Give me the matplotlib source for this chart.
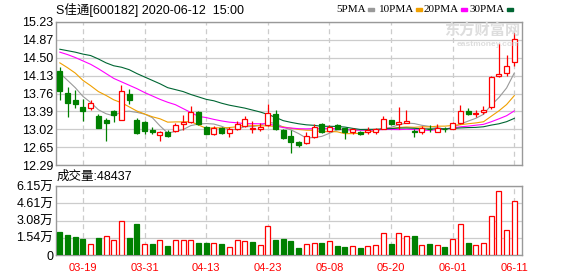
import matplotlib
matplotlib.use('Agg')
import matplotlib.pyplot as plt
import numpy as np
import pandas as pd

plt.rcParams['font.family'] = ['Liberation Sans', 'Noto Sans CJK SC']

# trading days shown (60 candles)
dates = ['03-16', '03-17', '03-18', '03-19', '03-20', '03-23', '03-24', '03-25', '03-26', '03-27',
         '03-30', '03-31', '04-01', '04-02', '04-03', '04-07', '04-08', '04-09', '04-10', '04-13',
         '04-14', '04-15', '04-16', '04-17', '04-20', '04-21', '04-22', '04-23', '04-24', '04-27',
         '04-28', '04-29', '04-30', '05-06', '05-07', '05-08', '05-11', '05-12', '05-13', '05-14',
         '05-15', '05-18', '05-19', '05-20', '05-21', '05-22', '05-25', '05-26', '05-27', '05-28',
         '05-29', '06-01', '06-02', '06-03', '06-04', '06-05', '06-08', '06-09', '06-10', '06-11']
tick_dates = ['03-19', '03-31', '04-13', '04-23', '05-08', '05-20', '06-01', '06-11']
price_ticks = [12.29, 12.65, 13.02, 13.39, 13.76, 14.13, 14.50, 14.87, 15.23]
price_labels = ['12.29', '12.65', '13.02', '13.39', '13.76', '14.13', '14.50', '14.87', '15.23']
vol_ticks = [0, 1.5375, 3.075, 4.6125, 6.15]
vol_labels = ['0', '1.54万', '3.08万', '4.61万', '6.15万']

open_ = [14.22, 13.77, 13.62, 13.49, 13.47, 13.30, 13.21, 13.41, 13.22, 13.74,
         13.21, 13.18, 13.00, 12.91, 12.97, 12.99, 13.13, 13.18, 13.38, 13.08,
         12.92, 13.06, 12.94, 13.02, 13.09, 13.03, 13.02, 13.12, 13.33, 13.00,
         12.89, 12.77, 12.75, 12.87, 13.14, 12.98, 13.11, 13.05, 12.97, 12.97,
         12.97, 12.97, 13.04, 13.21, 13.13, 13.16, 12.98, 12.96, 13.04, 12.97,
         13.04, 13.04, 13.15, 13.41, 13.33, 13.37, 13.49, 14.11, 14.19, 14.41]
close = [13.81, 13.57, 13.54, 13.39, 13.57, 13.06, 13.16, 13.32, 13.82, 13.62,
         12.94, 12.98, 12.96, 12.97, 12.88, 13.11, 13.17, 13.37, 13.13, 12.93,
         13.06, 12.94, 13.04, 13.13, 13.23, 13.05, 13.08, 13.35, 13.02, 12.85,
         12.76, 12.70, 12.89, 13.08, 12.96, 13.08, 13.04, 12.96, 13.03, 12.92,
         13.01, 13.02, 13.24, 13.13, 13.18, 13.19, 12.97, 13.06, 13.02, 13.06,
         13.02, 13.16, 13.39, 13.33, 13.35, 13.43, 14.10, 14.17, 14.32, 14.89]
high = [14.30, 13.90, 13.84, 13.64, 13.62, 13.33, 13.25, 13.43, 13.94, 13.86,
        13.26, 13.20, 13.08, 12.98, 13.00, 13.15, 13.32, 13.50, 13.39, 13.09,
        13.09, 13.08, 13.08, 13.19, 13.30, 13.19, 13.15, 13.55, 13.42, 13.02,
        13.00, 12.79, 12.96, 13.13, 13.16, 13.11, 13.13, 13.06, 13.06, 12.99,
        13.07, 13.05, 13.29, 13.21, 13.48, 13.43, 13.02, 13.09, 13.11, 13.13,
        13.07, 13.17, 13.52, 13.47, 13.42, 13.50, 14.11, 14.80, 14.55, 15.00]
low = [13.62, 13.28, 13.47, 13.20, 13.43, 13.05, 12.79, 13.18, 13.21, 13.54,
       12.92, 12.92, 12.92, 12.79, 12.87, 12.97, 13.00, 13.16, 13.12, 12.92,
       12.91, 12.92, 12.86, 13.01, 13.08, 12.94, 12.99, 13.10, 13.00, 12.83,
       12.54, 12.67, 12.73, 12.84, 12.94, 12.96, 13.03, 12.82, 12.92, 12.91,
       12.92, 12.92, 13.03, 13.11, 13.04, 13.16, 12.86, 12.92, 12.96, 12.96,
       12.97, 13.03, 13.13, 13.31, 13.28, 13.33, 13.45, 14.10, 14.12, 14.32]
# volume in 万 (10k)
vol = [2.05, 1.78, 1.60, 1.43, 0.95, 1.52, 1.66, 1.34, 3.03, 1.52,
       2.79, 0.98, 0.98, 1.34, 0.80, 1.34, 1.34, 1.34, 1.10, 1.10,
       1.07, 0.98, 0.68, 1.34, 1.25, 1.16, 0.89, 2.58, 1.34, 1.43,
       1.28, 0.62, 0.98, 1.07, 1.07, 1.25, 0.80, 0.71, 0.80, 0.62,
       0.77, 0.86, 1.96, 0.98, 1.96, 1.69, 1.69, 0.86, 0.98, 0.86,
       0.71, 1.43, 2.76, 1.07, 0.86, 1.07, 3.48, 5.67, 2.23, 4.8437]

# MA values before enough candles are on screen
ma5_head = [14.18, 14.03, 13.88, 13.70]
ma10_head = [14.39, 14.29, 14.18, 14.03, 13.92, 13.80, 13.72, 13.63, 13.57]
ma20_head = [14.61, 14.56, 14.50, 14.43, 14.36, 14.27, 14.17, 14.07, 14.00, 13.93,
             13.86, 13.78, 13.71, 13.64, 13.58, 13.53, 13.45, 13.37, 13.29]
ma30_head = [14.67, 14.64, 14.61, 14.57, 14.54, 14.47, 14.39, 14.33, 14.30, 14.25,
             14.17, 14.10, 14.03, 13.96, 13.88, 13.84, 13.80, 13.74, 13.69, 13.64,
             13.61, 13.56, 13.52, 13.49, 13.46, 13.42, 13.38, 13.33, 13.27]

RED = '#ff0000'
GREEN = '#008000'
ma_colors = {5: '#999999', 10: '#f0a000', 20: '#ff00ff', 30: '#006633'}
heads = {5: ma5_head, 10: ma10_head, 20: ma20_head, 30: ma30_head}

o = np.array(open_); c = np.array(close); h = np.array(high); l = np.array(low)
v = np.array(vol)
x = np.arange(len(dates))
up = c >= o
prev = np.concatenate([[o[0]], c[:-1]])
vol_up = c > prev

fig = plt.figure(figsize=(5.78, 2.76), dpi=100)
ax = fig.add_axes([56/578, 1-165/276, 466/578, 143/276])
axv = fig.add_axes([56/578, 1-255/276, 466/578, 69/276])

ticks_x = [dates.index(t) for t in tick_dates]
for a in (ax, axv):
    a.set_xlim(-0.5, 60.0)
    for sp in a.spines.values():
        sp.set_color('#999999')
        sp.set_linewidth(1.0)
    a.grid(axis='y', color='#cccccc', linewidth=0.9)
    for t in ticks_x:
        a.axvline(t, color='#cccccc', linewidth=0.9, linestyle=(0, (4, 3)), zorder=0)
    a.set_axisbelow(True)
    a.tick_params(length=0, labelsize=9, pad=2)

# price panel
ax.set_ylim(12.29, 15.23)
ax.set_yticks(price_ticks)
ax.set_yticklabels(price_labels)
ax.set_xticks([])

for n in (5, 10, 20, 30):
    ma = pd.Series(c).rolling(n).mean().to_numpy()
    ma[:n-1] = heads[n]
    ax.plot(x, ma, color=ma_colors[n], linewidth=0.8, zorder=2)

w = 0.65
ax.vlines(x, l, h, colors=np.where(up, RED, GREEN), linewidth=0.9, zorder=3)
body = np.maximum(np.abs(c - o), 0.006)
ax.bar(x, body, bottom=np.minimum(o, c), width=w,
       color=np.where(up, 'white', GREEN), edgecolor=np.where(up, RED, GREEN),
       linewidth=0.9, zorder=4)

# volume panel
axv.set_ylim(0, 6.15)
axv.set_yticks(vol_ticks)
axv.set_yticklabels(vol_labels)
axv.bar(x, v, width=w, color=np.where(vol_up, 'white', GREEN),
        edgecolor=np.where(vol_up, RED, GREEN), linewidth=0.9, zorder=3)
axv.set_xticks(ticks_x)
axv.set_xticklabels(tick_dates, color=RED, fontsize=8)
axv.tick_params(axis='x', pad=6)

# texts
fig.text(56/578, 1-10/276, 'S佳通[600182] 2020-06-12  15:00', fontsize=9, va='center')
fig.text(57/578, 1-177/276, '成交量:%d' % round(v[-1] * 10000), fontsize=9, va='center')

leg_x = [336, 379, 424, 470]
for (n, lx) in zip((5, 10, 20, 30), leg_x):
    fig.text(lx/578, 1-10/276, '%dPMA' % n, fontsize=8, va='center',
             family=['Liberation Serif', 'DejaVu Serif'])
    sw = lx + (32 if n == 5 else 37)
    fig.patches.append(plt.Rectangle((sw/578, 1-11/276), 6/578, 3/276,
                                     transform=fig.transFigure, color=ma_colors[n]))

# watermark
fig.text(520/578, 1-30/276, '东方财富网', fontsize=11, color='#dddddd', ha='right',
         va='center', weight='bold', family=['Noto Sans CJK SC'])
fig.text(520/578, 1-44/276, 'eastmoney.com', fontsize=6, color='#dddddd', ha='right',
         va='center', weight='bold')

fig.savefig('out.png', dpi=100)
